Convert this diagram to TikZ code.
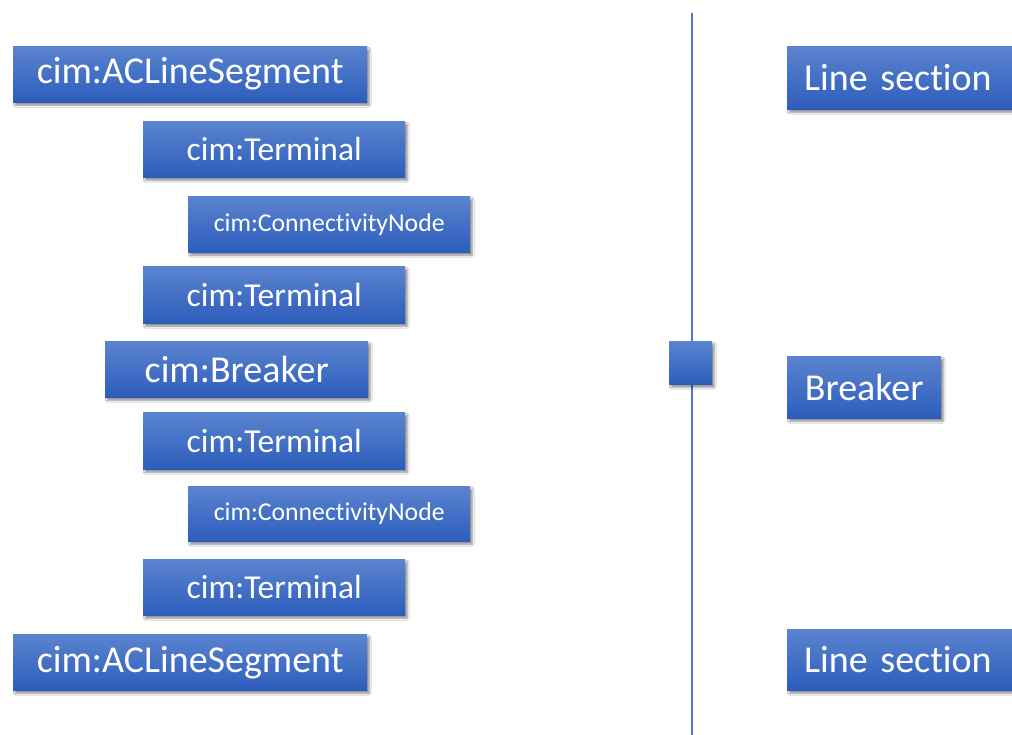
\documentclass[tikz,border=0pt]{standalone}
\usepackage{fontspec}
\setmainfont{Carlito}[RawFeature=-liga]
\usetikzlibrary{shadows,shadows.blur}
\definecolor{boxtop}{HTML}{5B84CF}
\definecolor{boxbot}{HTML}{2D5DBC}
\definecolor{vline}{HTML}{4A78D0}
\tikzset{
  box/.style={rectangle, anchor=north west, top color=boxtop, bottom color=boxbot,
    draw=none, text=white, inner sep=0pt, minimum height=56pt,
    blur shadow={shadow xshift=2pt, shadow yshift=-3pt, shadow blur steps=6, shadow opacity=45}},
  big/.style={font=\fontsize{38}{40}\selectfont},
  mid/.style={font=\fontsize{33.5}{36}\selectfont},
  small/.style={font=\fontsize{25.7}{28}\selectfont},
}
\begin{document}
\begin{tikzpicture}[x=1pt,y=1pt]
\clip (0,0) rectangle (1012,734);
\fill[white] (0,0) rectangle (1012,734);
% left column
\node[box,big,minimum width=354pt] (acl1) at (13,688) {cim:ACLineSegment};
\node[box,mid,minimum width=262pt] (t1) at (143,613) {cim:Terminal};
\node[box,small,minimum width=282pt] (cn1) at (188,538) {cim:ConnectivityNode};
\node[box,mid,minimum width=262pt,minimum height=57pt] (t2) at (143,468) {cim:Terminal};
\node[box,big,minimum width=263pt] (br1) at (105,393) {cim:Breaker};
\node[box,mid,minimum width=262pt,minimum height=57pt] (t3) at (143,322) {cim:Terminal};
\node[box,small,minimum width=282pt,minimum height=55pt] (cn2) at (188,248) {cim:ConnectivityNode};
\node[box,mid,minimum width=262pt] (t4) at (143,175) {cim:Terminal};
\node[box,big,minimum width=354pt] (acl2) at (13,100) {cim:ACLineSegment};
% middle line and switch
\coordinate (ltop) at (692,721);
\coordinate (lbot) at (692,-2);
\draw[vline,line width=1.3pt] (ltop) -- (lbot);
\node[box,minimum width=43pt,minimum height=43pt] (sw) at (669,393) {};
% right column
\node[box,big,minimum height=63pt,text width=206pt,align=left,inner xsep=17pt] (ls1) at (787,688) {Line section};
\node[box,big,minimum height=62pt,minimum width=154pt] (br2) at (787,378) {Breaker};
\node[box,big,minimum height=61pt,text width=206pt,align=left,inner xsep=17pt] (ls2) at (787,105) {Line section};
\end{tikzpicture}
\end{document}
